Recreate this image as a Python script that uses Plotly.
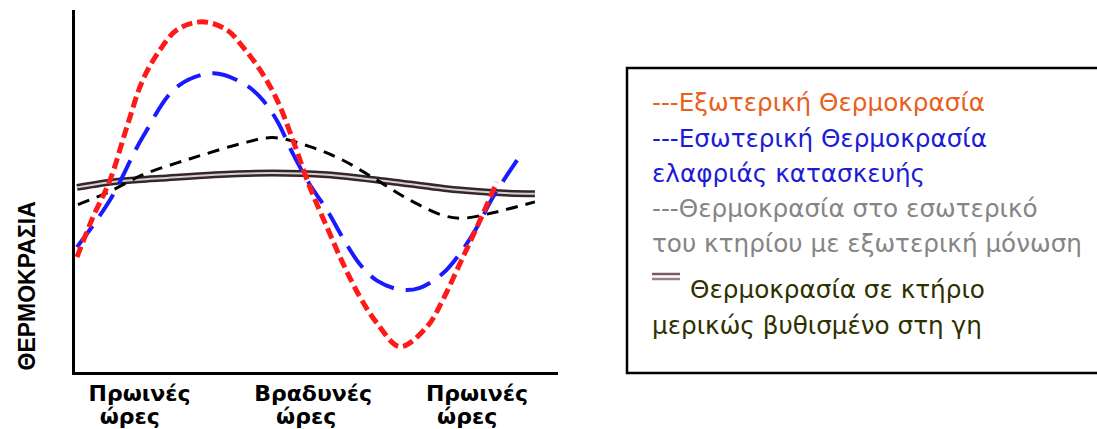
import plotly.graph_objects as go

# Time of day (hours from midnight of day 1) and temperature (°C)
outer_h = [3.43, 4.57, 5.79, 7.0, 8.14, 9.36, 10.57, 12.36, 14.14, 15.29, 16.5, 17.71,
           18.86, 20.07, 21.29, 22.43, 23.64, 24.86, 26.5, 28.43, 29.57, 30.79, 32.0, 33.43]
outer_t = [12.7, 17.1, 21.2, 27.1, 32.3, 35.6, 37.8, 38.7, 37.8, 35.9, 33.4, 30.1,
           25.6, 20.4, 16.0, 12.0, 8.3, 5.4, 2.8, 5.0, 8.0, 12.0, 16.0, 21.0]

light_h = [3.43, 5.79, 8.14, 10.57, 13.14, 15.29, 16.5, 17.71, 18.86, 20.07, 21.29,
           22.43, 23.64, 24.86, 26.5, 27.93, 29.57, 30.79, 32.0, 33.14, 35.21]
light_t = [13.8, 19.0, 26.0, 31.5, 33.0, 31.9, 30.4, 27.8, 24.1, 20.7, 17.9,
           14.8, 11.9, 10.1, 9.1, 9.3, 10.9, 13.1, 16.0, 19.3, 24.2]

insul_h = [3.5, 5.57, 8.14, 10.57, 12.43, 15.07, 17.43, 20.07, 22.43, 24.86, 27.21,
           29.57, 31.0, 33.14, 36.14]
insul_t = [18.5, 19.8, 21.8, 23.1, 24.0, 25.2, 25.9, 24.9, 23.4, 21.2, 19.0,
           17.3, 17.0, 17.6, 18.8]

earth_h = [3.43, 6.5, 9.36, 13.29, 17.43, 21.29, 26.0, 30.79, 33.64, 36.14]
earth_t = [20.4, 21.1, 21.4, 21.8, 22.0, 21.8, 21.0, 20.1, 19.8, 19.7]

# two-row tick labels: period name, then "hours" word slightly to the left
tick_hours = [7.9, 20.3, 32.0]
tick_text = ["<b>Πρωινές</b>", "<b>Βραδυνές</b>", "<b>Πρωινές</b>"]
tick2_hours = [7.2, 19.8, 31.3]
tick2_text = ["<b>ώρες</b>", "<b>ώρες</b>", "<b>ώρες</b>"]

legend_lines = [
    ("---Εξωτερική Θερμοκρασία", "#e8601c", 102),
    ("---Εσωτερική Θερμοκρασία", "#1c1cd6", 138),
    ("ελαφριάς κατασκευής", "#1c1cd6", 173),
    ("---Θερμοκρασία στο εσωτερικό", "#858585", 208),
    ("του κτηρίου με εξωτερική μόνωση", "#858585", 243),
    ("Θερμοκρασία σε κτήριο", "#2e3000", 289),
    ("μερικώς βυθισμένο στη γη", "#2e3000", 325),
]

W, H = 1097, 429
L, R, T, B = 75, 539, 10, 57
PW, PH = W - L - R, H - T - B
X_RANGE = [3.29, 37.79]


def px_x(x):
    return (x - L) / PW


def px_y(y):
    return (H - B - y) / PH


fig = go.Figure()

# partially buried building: double line (dark outer, light core)
fig.add_trace(go.Scatter(x=earth_h, y=earth_t, mode="lines",
                         line=dict(color="#35262a", width=7, shape="spline"),
                         hoverinfo="skip"))
fig.add_trace(go.Scatter(x=earth_h, y=earth_t, mode="lines",
                         line=dict(color="#d8cfd0", width=2, shape="spline"),
                         hoverinfo="skip"))
fig.add_trace(go.Scatter(x=insul_h, y=insul_t, mode="lines",
                         line=dict(color="black", width=3, dash="12px,8px", shape="spline"),
                         hoverinfo="skip"))
fig.add_trace(go.Scatter(x=light_h, y=light_t, mode="lines",
                         line=dict(color="#1a1aff", width=4, dash="26px,12px", shape="spline"),
                         hoverinfo="skip"))
fig.add_trace(go.Scatter(x=outer_h, y=outer_t, mode="lines",
                         line=dict(color="#ff1a1a", width=5, dash="11px,5px", shape="spline"),
                         hoverinfo="skip"))
# invisible carrier for the second tick-label row
fig.add_trace(go.Scatter(x=X_RANGE, y=[0, 0], xaxis="x2", mode="lines",
                         line=dict(width=0), hoverinfo="skip", showlegend=False))

annotations = [
    dict(text="<b>ΘΕΡΜΟΚΡΑΣΙΑ</b>", textangle=-90, xref="paper", yref="paper",
         x=px_x(26.5), y=px_y(286), showarrow=False,
         font=dict(family="Liberation Sans", size=23, color="black"),
         xanchor="center", yanchor="middle"),
]
for text, color, yc in legend_lines:
    xl = 688 if text.startswith("Θερμοκρασία σε") else 650
    annotations.append(dict(text=text, xref="paper", yref="paper",
                            x=px_x(xl), y=px_y(yc), showarrow=False,
                            xanchor="left", yanchor="middle",
                            font=dict(family="DejaVu Sans", size=24.7, color=color)))

shapes = [
    dict(type="rect", xref="paper", yref="paper",
         x0=px_x(627), x1=px_x(1110), y0=px_y(373), y1=px_y(68),
         line=dict(color="black", width=2.5), fillcolor="white", layer="below"),
    dict(type="line", xref="paper", yref="paper",
         x0=px_x(652), x1=px_x(680), y0=px_y(274), y1=px_y(274),
         line=dict(color="#7b5b63", width=2.5)),
    dict(type="line", xref="paper", yref="paper",
         x0=px_x(652), x1=px_x(680), y0=px_y(279), y1=px_y(279),
         line=dict(color="#9a8088", width=2.5)),
]

tick_font = dict(family="DejaVu Sans", size=22, color="black")

fig.update_layout(
    width=W, height=H,
    margin=dict(l=L, r=R, t=T, b=B, autoexpand=False),
    paper_bgcolor="white", plot_bgcolor="white",
    showlegend=False,
    annotations=annotations,
    shapes=shapes,
    xaxis=dict(range=X_RANGE, showgrid=False, zeroline=False, automargin=False,
               showline=True, linewidth=3, linecolor="black",
               tickvals=tick_hours, ticktext=tick_text, ticks="",
               tickfont=tick_font),
    xaxis2=dict(range=X_RANGE, overlaying="x", side="bottom", anchor="y",
                showgrid=False, zeroline=False, automargin=False, showline=False,
                tickvals=tick2_hours, ticktext=tick2_text, ticks="",
                ticklabelstandoff=29, tickfont=tick_font),
    yaxis=dict(range=[0, 40], showgrid=False, zeroline=False, automargin=False,
               showline=True, linewidth=3, linecolor="black",
               showticklabels=False, ticks=""),
)

fig.write_html("out.html")
